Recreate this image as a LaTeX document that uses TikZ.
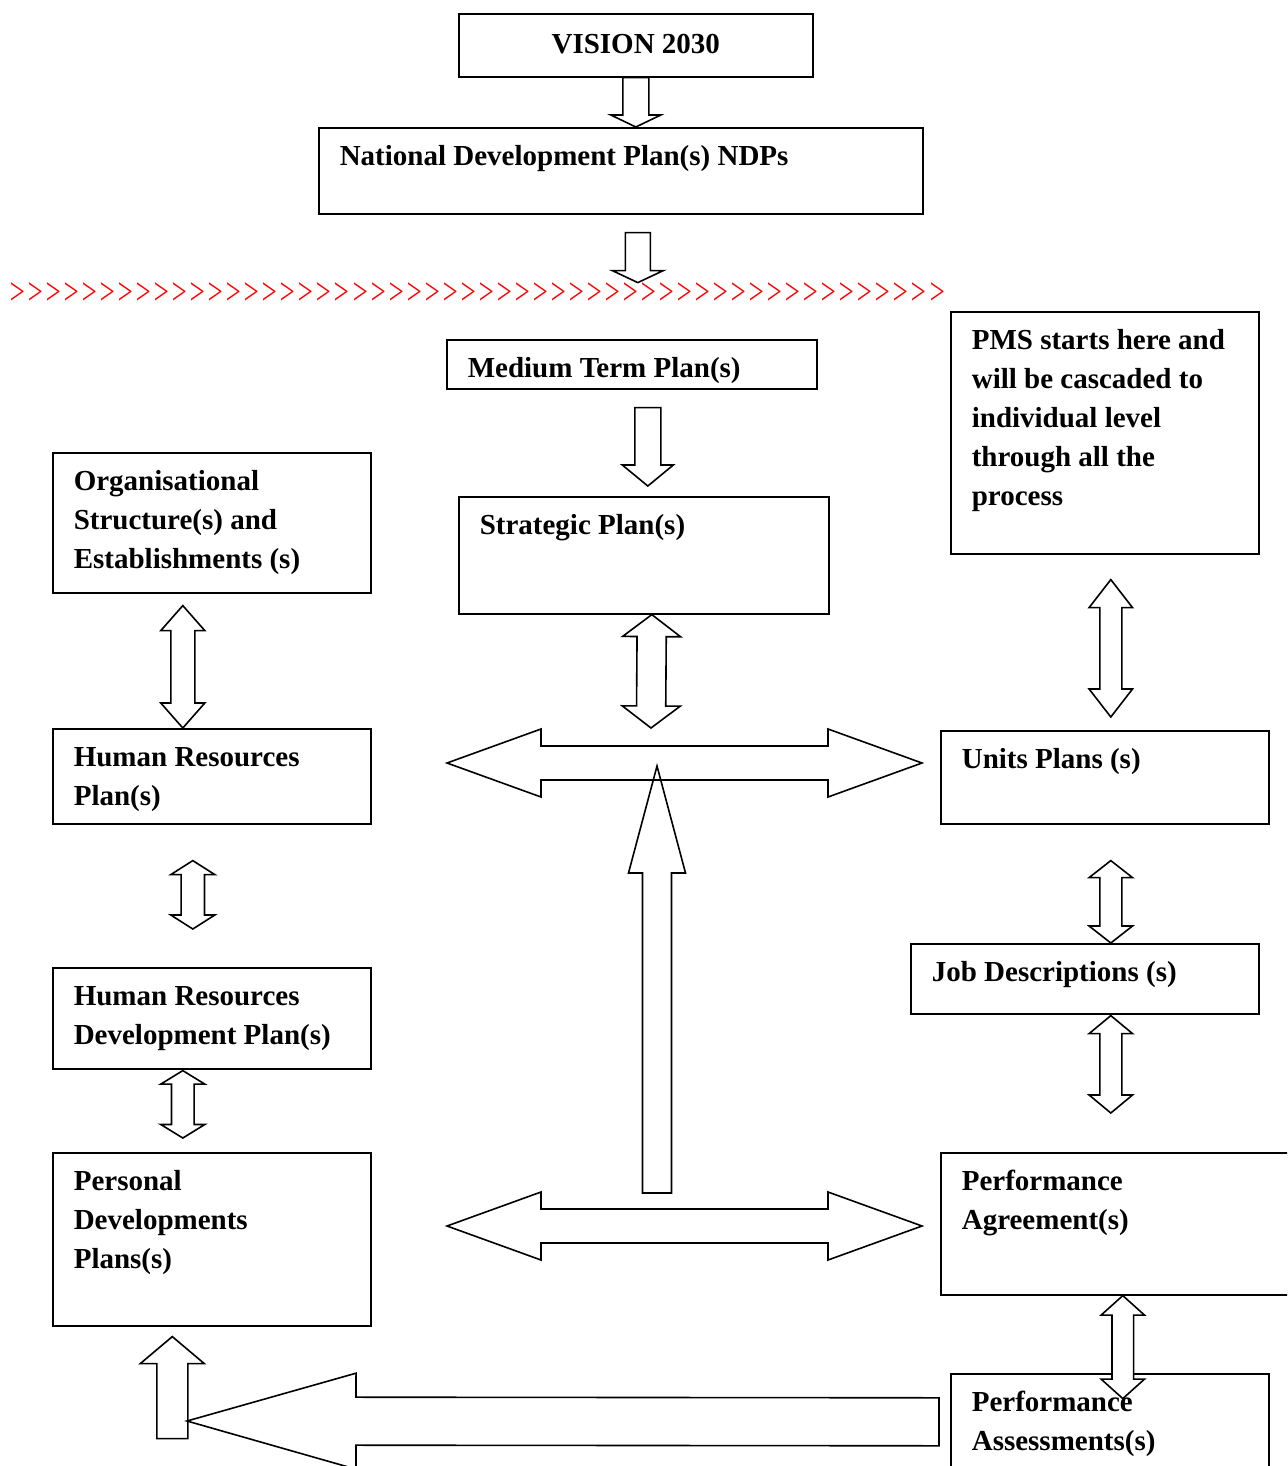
\documentclass[tikz,border=0pt]{standalone}
\usepackage{graphicx}
\usepackage{fontspec}
\setmainfont{Liberation Serif}
\newfontfamily\chevfont{Liberation Serif}
\usetikzlibrary{positioning,calc}

\newcommand{\plantext}{\bfseries\fontsize{14.5}{19.5}\selectfont}
% box of fixed size (W, H in pt), text at top left
\newcommand{\boxtext}[3]{\parbox[t][\dimexpr#2-10.6pt\relax][t]{\dimexpr#1-21pt\relax}{\raggedright\strut#3}}

% block arrows: tail, tip, shaft half-width, head half-width, head length
\newcommand{\singlearrow}[6][]{%
  \coordinate (hb) at ($(#3)!#6!(#2)$);
  \draw[blockarrow,#1] ($(#2)!#4!90:(#3)$) -- ($(hb)!#4!90:(#3)$) -- ($(hb)!#5!90:(#3)$) -- (#3)
    -- ($(hb)!#5!-90:(#3)$) -- ($(hb)!#4!-90:(#3)$) -- ($(#2)!#4!-90:(#3)$) -- cycle;}
\newcommand{\doublearrow}[6][]{%
  \coordinate (ha) at ($(#2)!#6!(#3)$);
  \coordinate (hb) at ($(#3)!#6!(#2)$);
  \draw[blockarrow,#1] (#2) -- ($(ha)!#5!-90:(#2)$) -- ($(ha)!#4!-90:(#2)$) -- ($(hb)!#4!90:(#3)$)
    -- ($(hb)!#5!90:(#3)$) -- (#3) -- ($(hb)!#5!-90:(#3)$) -- ($(hb)!#4!-90:(#3)$)
    -- ($(ha)!#4!90:(#2)$) -- ($(ha)!#5!90:(#2)$) -- cycle;}

\tikzset{
  planbox/.style={draw, line width=0.8pt, anchor=north west, inner xsep=10.5pt, inner ysep=5.3pt, font=\plantext},
  blockarrow/.style={draw, line width=0.8pt, line join=miter},
  chevrons/.style={text=red, font=\chevfont\itshape\fontsize{19}{22}\selectfont, inner sep=0pt, anchor=west},
}

\begin{document}
\begin{tikzpicture}[x=0.5pt, y=-0.5pt]
  \useasboundingbox (0,0) rectangle (1287,1466);
  \clip (0,0) rectangle (1287,1466);

  % national level
  \node[planbox, minimum width=177pt, minimum height=31.5pt, inner sep=0pt] (vision) at (458,13) {\strut VISION 2030};
  \node[planbox] (ndp) at (318,127) {\boxtext{302pt}{43pt}{National Development Plan(s) NDPs}};

  \singlearrow{vision.south}{vision.south |- ndp.north}{6.5pt}{12.5pt}{6pt}
  \coordinate (ndpout) at ($(ndp.south)+(17,18)$);
  \coordinate (ndptip) at ($(ndp.south)+(17,68)$);
  \singlearrow{ndpout}{ndptip}{6.25pt}{12.75pt}{6pt}

  \node[chevrons] (cutline) at (8,294) {\scalebox{0.703}[1]{>>>>>>>>>>>>>>>>>>>>>>>>>>>>>>>>>>>>>>>>>>>>>>>>>>>>}};

  % ministry level
  \node[planbox] (mtp) at (446,339) {\boxtext{185pt}{24.5pt}{Medium Term Plan(s)}};
  \node[planbox] (sp) at (458,496) {\boxtext{185pt}{58.5pt}{Strategic Plan(s)}};
  \node[planbox] (pms) at (950,311) {\boxtext{154pt}{121pt}{PMS starts here and\\ will be cascaded to\\ individual level\\ through all the\\ process}};

  \coordinate (mtpout) at ($(mtp.south)+(16,18)$);
  \coordinate (spin) at ($(sp.north)+(4,-10)$);
  \singlearrow{mtpout}{spin}{6.5pt}{12.75pt}{10.5pt}

  % left column
  \node[planbox] (org) at (52,452) {\boxtext{159pt}{70pt}{Organisational\\ Structure(s) and\\ Establishments (s)}};
  \node[planbox] (hrp) at (52,728) {\boxtext{159pt}{47.5pt}{Human Resources\\ Plan(s)}};
  \node[planbox] (hrdp) at (52,967) {\boxtext{159pt}{50.5pt}{Human Resources\\ Development Plan(s)}};
  \node[planbox] (pdp) at (52,1152) {\boxtext{159pt}{86.5pt}{Personal\\ Developments\\ Plans(s)}};

  % right column
  \node[planbox] (units) at (940,730) {\boxtext{164pt}{46.5pt}{Units Plans (s)}};
  \node[planbox] (jd) at (910,943) {\boxtext{174pt}{35pt}{Job Descriptions (s)}};
  \node[planbox] (pa) at (940,1152) {\boxtext{175pt}{71pt}{Performance\\ Agreement(s)}};
  \node[planbox] (pas) at (950,1373) {\boxtext{159pt}{65pt}{Performance\\ Assessments(s)}};

  % centre arrows
  \coordinate (spout) at ($(sp.south)+(8,0)$);
  \coordinate (hub) at (651,728);
  \doublearrow{spout}{hub}{7.3pt}{14.5pt}{11pt}
  \coordinate (hubw) at (447,763);
  \coordinate (hube) at (922,763);
  \doublearrow{hubw}{hube}{8.5pt}{17pt}{47pt}
  \coordinate (basew) at (447,1226);
  \coordinate (basee) at (922,1226);
  \doublearrow{basew}{basee}{8.5pt}{17pt}{47pt}
  \coordinate (risefoot) at (657,1193);
  \coordinate (risetip) at (657,766);
  \singlearrow{risefoot}{risetip}{7.25pt}{14.25pt}{53.5pt}

  % right column arrows
  \coordinate (r1a) at ($(pms.south)+(6,25)$);
  \coordinate (r1b) at ($(units.north)+(6,-13)$);
  \doublearrow{r1a}{r1b}{5.5pt}{10.85pt}{14pt}
  \coordinate (r2a) at ($(units.south)+(6,36)$);
  \coordinate (r2b) at ($(jd.north)+(26,0)$);
  \doublearrow{r2a}{r2b}{5.5pt}{10.85pt}{8.5pt}
  \coordinate (r3a) at ($(jd.south)+(26,1)$);
  \coordinate (r3b) at ($(pa.north)+(-5,-39)$);
  \doublearrow{r3a}{r3b}{5.5pt}{10.85pt}{9pt}
  \coordinate (r4a) at ($(pa.south)+(7,0)$);
  \coordinate (r4b) at ($(pa.south)+(7,103)$);
  \doublearrow[fill=white]{r4a}{r4b}{5.4pt}{10.85pt}{9.75pt}

  % left column arrows
  \coordinate (l1a) at ($(org.south)+(-29,12)$);
  \coordinate (l1b) at ($(hrp.north)+(-29,0)$);
  \doublearrow{l1a}{l1b}{6pt}{11pt}{12.5pt}
  \coordinate (l2a) at ($(hrp.south)+(-19,36)$);
  \coordinate (l2b) at ($(hrdp.north)+(-19,-38)$);
  \doublearrow{l2a}{l2b}{5.85pt}{11pt}{7pt}
  \coordinate (l3a) at ($(hrdp.south)+(-29,1)$);
  \coordinate (l3b) at ($(pdp.north)+(-29,-14)$);
  \doublearrow{l3a}{l3b}{5.65pt}{11pt}{6.75pt}

  % feedback to personal plans
  \coordinate (feedfoot) at ($(pdp.south)+(-39.5,112)$);
  \coordinate (feedtip) at ($(pdp.south)+(-39.5,10)$);
  \singlearrow{feedfoot}{feedtip}{7.75pt}{16pt}{13.5pt}
  \coordinate (backtail) at ($(pas.west)+(-11,-17)$);
  \coordinate (backtip) at (187,1421);
  \singlearrow{backtail}{backtip}{12pt}{24pt}{84.5pt}
\end{tikzpicture}
\end{document}
